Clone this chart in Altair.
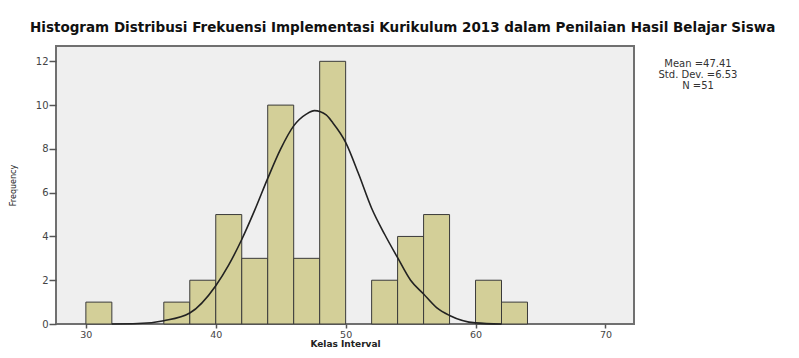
import altair as alt
import pandas as pd

# Histogram bins (width 2) and frequencies
bin_start = [30, 36, 38, 40, 42, 44, 46, 48, 52, 54, 56, 60, 62]
bin_end = [32, 38, 40, 42, 44, 46, 48, 50, 54, 56, 58, 62, 64]
counts = [1, 1, 2, 5, 3, 10, 3, 12, 2, 4, 5, 2, 1]

# Normal curve points
curve_x = [32, 34, 36, 38, 40, 41, 42, 43, 44, 45, 46, 47, 47.6, 48.5, 49,
           50, 51, 52, 53, 54, 55, 56, 57, 58, 60, 62]
curve_y = [0, 0.02, 0.15, 0.5, 1.75, 2.7, 3.86, 5.2, 6.65, 8.0, 9.05, 9.6, 9.75,
           9.55, 9.2, 8.3, 6.85, 5.29, 4.1, 3.03, 2.0, 1.37, 0.75, 0.39, 0.05, 0]

x_ticks = [30, 40, 50, 60, 70]
y_ticks = [0, 2, 4, 6, 8, 10, 12]

stats_lines = ["Mean =47.41", "Std. Dev. =6.53", "N =51"]
stats_y = [18, 29, 40]

title_text = "Histogram Distribusi Frekuensi Implementasi Kurikulum 2013 dalam Penilaian Hasil Belajar Siswa"

bars_df = pd.DataFrame({"start": bin_start, "end": bin_end, "count": counts})
curve_df = pd.DataFrame({"x": curve_x, "y": curve_y})
stats_df = pd.DataFrame({"label": stats_lines, "py": stats_y})

FONT = "DejaVu Sans"

xscale = alt.Scale(domain=[27.7, 72.2], nice=False, zero=False)
yscale = alt.Scale(domain=[0, 12.7], nice=False, zero=True)

xaxis = alt.Axis(values=x_ticks, title="Kelas Interval", grid=False, domain=False,
                 tickSize=4, tickColor="#555555", tickWidth=1.5,
                 labelFont=FONT, labelFontSize=9.5, labelColor="#444444", labelPadding=1,
                 titleFont=FONT, titleFontSize=9, titleFontWeight="bold", titleColor="#222222",
                 titleY=15, titleBaseline="top")
yaxis = alt.Axis(values=y_ticks, title="Frequency", grid=False, domain=False,
                 tickSize=7, tickColor="#555555", tickWidth=1.5,
                 labelFont=FONT, labelFontSize=10, labelColor="#444444", labelPadding=1,
                 titleFont=FONT, titleFontSize=8, titleFontWeight="normal", titleColor="#222222",
                 titlePadding=18)

bars = alt.Chart(bars_df).mark_rect(fill="#D3CF98", stroke="#3a3a3a", strokeWidth=1).encode(
    x=alt.X("start:Q", scale=xscale, axis=xaxis),
    x2="end:Q",
    y=alt.Y("count:Q", scale=yscale, axis=yaxis),
    y2=alt.datum(0),
)

curve = alt.Chart(curve_df).mark_line(color="#222222", strokeWidth=1.6, interpolate="monotone").encode(
    x=alt.X("x:Q", scale=xscale),
    y=alt.Y("y:Q", scale=yscale),
)

stats = alt.Chart(stats_df).mark_text(font=FONT, fontSize=10, color="#333333", align="center",
                                       baseline="middle").encode(
    x=alt.value(642),
    y=alt.Y("py:Q", scale=None),
    text="label:N",
)

chart = alt.layer(bars, curve, stats).properties(
    width=578,
    height=278,
    title=alt.TitleParams(title_text, font=FONT, fontSize=13.5, fontWeight="bold",
                          color="#111111", anchor="start", frame="group", dx=-26, offset=12),
    autosize=alt.AutoSizeParams(type="none"),
    padding={"left": 48, "top": 38, "right": 157, "bottom": 26},
    background="white",
).configure_view(
    fill="#EFEFEF", stroke="#707070", strokeWidth=2
)

chart.save("out.html", embed_options={"renderer": "svg", "actions": False})
